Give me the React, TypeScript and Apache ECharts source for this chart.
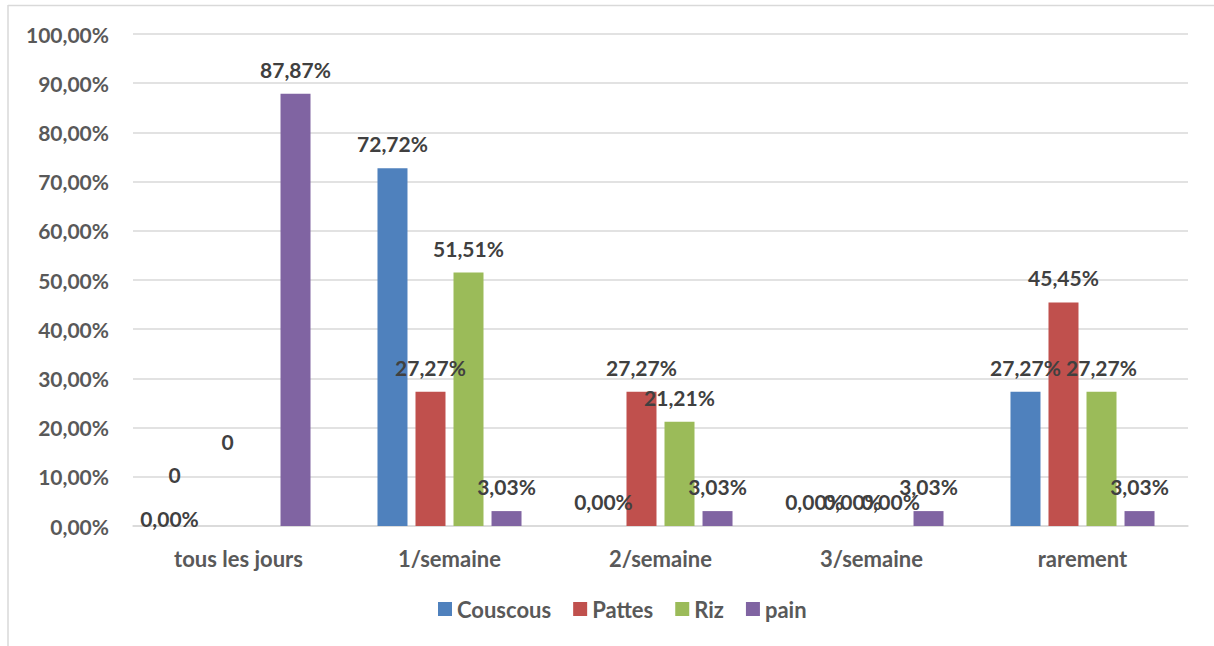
import React, { useEffect, useRef } from "react";
import * as echarts from "echarts";

// Frequency of consumption per food, in percent
const categories = ["tous les jours", "1/semaine", "2/semaine", "3/semaine", "rarement"];
const seriesNames = ["Couscous", "Pattes", "Riz", "pain"];
const couscous = [0, 72.72, 0, 0, 27.27];
const pattes = [0, 27.27, 27.27, 0, 45.45];
const riz = [0, 51.51, 21.21, 0, 27.27];
const pain = [87.87, 3.03, 3.03, 3.03, 3.03];
const yTicks = [0, 10, 20, 30, 40, 50, 60, 70, 80, 90, 100];

const colors = ["#4F81BD", "#C0504D", "#9BBB59", "#8064A2"];
const FONT = "Lato, 'Open Sans', sans-serif";

const fmtPct = (v: number) => v.toFixed(2).replace(".", ",") + "%";

// Labels that were moved by hand in the first group; some show a bare "0"
const labelOverrides: Record<string, { offset: number[]; text?: string }> = {
  "0-0": { offset: [-12, 17] },
  "1-0": { offset: [-45, -27], text: "0" },
  "2-0": { offset: [-30, -60], text: "0" },
};

export default function App() {
  const ref = useRef<HTMLDivElement>(null);

  useEffect(() => {
    if (!ref.current) return;
    const chart = echarts.init(ref.current, undefined, { renderer: "svg" });
    const allValues = [couscous, pattes, riz, pain];

    const series = allValues.map((vals, si) => ({
      name: seriesNames[si],
      type: "bar" as const,
      barWidth: 30,
      barGap: "26.7%",
      itemStyle: { color: colors[si] },
      label: {
        show: true,
        position: "top" as const,
        distance: 14,
        color: "#404040",
        fontFamily: FONT,
        fontWeight: "bold" as const,
        fontSize: 21,
        formatter: (p: any) => fmtPct(p.value),
      },
      data: vals.map((v, di) => {
        const o = labelOverrides[`${si}-${di}`];
        if (!o) return v;
        return {
          value: v,
          label: {
            offset: o.offset,
            formatter: o.text !== undefined ? o.text : (p: any) => fmtPct(p.value),
          },
        };
      }),
    }));

    chart.setOption({
      animation: false,
      backgroundColor: "#ffffff",
      grid: { left: 133, right: 26, top: 34, bottom: 120, containLabel: false },
      legend: {
        data: seriesNames,
        bottom: 21,
        left: 433,
        icon: "rect",
        itemWidth: 14,
        itemHeight: 14,
        itemGap: 22,
        textStyle: { color: "#595959", fontFamily: FONT, fontWeight: "bold", fontSize: 22 },
      },
      xAxis: {
        type: "category",
        data: categories,
        axisTick: { show: false },
        axisLine: { lineStyle: { color: "#d9d9d9", width: 1.5 } },
        axisLabel: {
          color: "#595959",
          fontFamily: FONT,
          fontWeight: "bold",
          fontSize: 22,
          margin: 21,
        },
      },
      yAxis: {
        type: "value",
        min: yTicks[0],
        max: yTicks[yTicks.length - 1],
        interval: 10,
        axisLine: { show: false },
        axisTick: { show: false },
        splitLine: { lineStyle: { color: "#d9d9d9", width: 1.5 } },
        axisLabel: {
          color: "#595959",
          fontFamily: FONT,
          fontWeight: "bold",
          fontSize: 21,
          margin: 24,
          formatter: (v: number) => fmtPct(v),
        },
      },
      graphic: [
        { type: "line", shape: { x1: 8, y1: 5.5, x2: 1214, y2: 5.5 }, style: { stroke: "#d9d9d9", lineWidth: 1.5 }, silent: true },
        { type: "line", shape: { x1: 8, y1: 5, x2: 8, y2: 646 }, style: { stroke: "#d9d9d9", lineWidth: 1.5 }, silent: true },
      ],
      series,
    });

    return () => chart.dispose();
  }, []);

  return (
    <div
      ref={ref}
      style={{ position: "fixed", left: 0, top: 0, width: 1214, height: 646, background: "#fff" }}
    />
  );
}
